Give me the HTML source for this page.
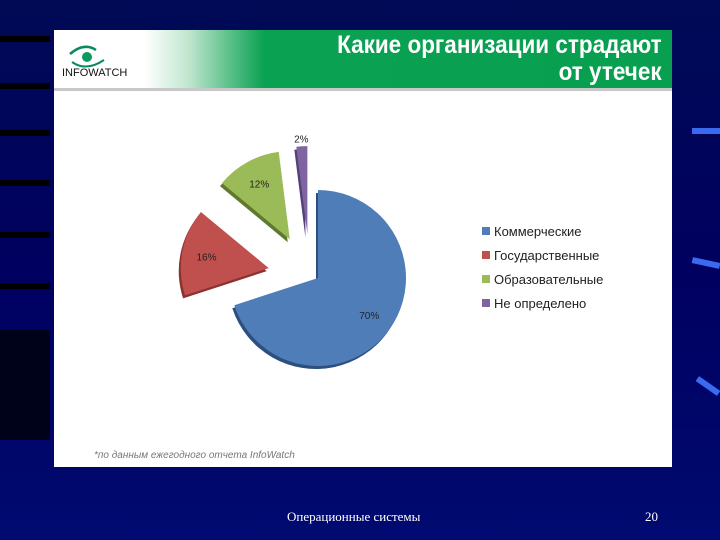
<!DOCTYPE html>
<html><head><meta charset="utf-8"><style>
body{margin:0;width:720px;height:540px;overflow:hidden;background:linear-gradient(180deg,#000a55 0%,#000060 50%,#000a70 100%);position:relative;font-family:"Liberation Sans",sans-serif}
.s{position:absolute;left:0;width:50px;height:6px;background:#000}
</style></head><body>
<div class="s" style="top:36px"></div>
<div class="s" style="top:83px"></div>
<div class="s" style="top:130px"></div>
<div class="s" style="top:180px"></div>
<div class="s" style="top:232px"></div>
<div class="s" style="top:283px"></div>
<div style="position:absolute;left:0;top:330px;width:50px;height:110px;background:#00021a"></div>
<div style="position:absolute;left:692px;top:128px;width:28px;height:6px;background:#3a6af0"></div>
<div style="position:absolute;left:692px;top:260px;width:28px;height:6px;background:#3a6af0;transform:rotate(12deg)"></div>
<div style="position:absolute;left:695px;top:383px;width:26px;height:6px;background:#3a6af0;transform:rotate(35deg)"></div>

<div style="position:absolute;left:54px;top:30px;width:618px;height:437px;background:#fff">
 <div style="position:absolute;left:0;top:0;width:618px;height:58px;background:linear-gradient(90deg,#fff 0px,#fff 90px,#bfe6cf 135px,#5cc18a 175px,#0aa152 210px,#08a050 100%);border-bottom:3px solid #c8c8c8"></div>
 <div style="position:absolute;left:4px;top:12px;width:70px;height:40px">
  <svg width="70" height="40"><path d="M12 12 Q26 0 38 8" stroke="#0a8a5a" stroke-width="2.5" fill="none"/><path d="M14 20 Q28 30 46 18" stroke="#0a8a5a" stroke-width="2" fill="none"/><circle cx="29" cy="15" r="5" fill="#0a9a60"/></svg>
  <div style="position:absolute;left:4px;top:25px;font-size:11px;color:#111">INFOWATCH</div>
 </div>
 <div style="position:absolute;right:10px;top:2px;text-align:right;color:#fff;font-weight:bold;font-size:25px;line-height:27px;transform:scaleX(0.9);transform-origin:right">Какие организации страдают<br>от утечек</div>
 <svg id="pie" width="618" height="437" style="position:absolute;left:0;top:0"></svg>
 <div style="position:absolute;left:40px;top:420px;font-size:10px;font-style:italic;color:#777">*по данным ежегодного отчета InfoWatch</div>
</div>
<div style="position:absolute;left:287px;top:509px;color:#fff;font-family:'Liberation Serif',serif;font-size:13px">Операционные системы</div>
<div style="position:absolute;left:645px;top:509px;color:#fff;font-family:'Liberation Serif',serif;font-size:13px">20</div>
<script>
const categories=["Коммерческие","Государственные","Образовательные","Не определено"];
const values=[70,16,12,2];
const labels=["70%","16%","12%","2%"];
const colors=["#4f7db8","#c0504d","#9bbb59","#8064a2"];
const dark=["#2c4f80","#8a3230","#5e7a2c","#54407a"];
const svg=document.getElementById('pie');
const NS="http://www.w3.org/2000/svg";
const cx=264,cy=248,r=88,explode=42,shiftX=-8,shiftY=-2;
const total=values.reduce((a,b)=>a+b,0);
function pt(a,rad,ox,oy){return [ox+rad*Math.sin(a),oy-rad*Math.cos(a)];}
let start=0;
values.forEach((v,i)=>{
 const ang=v/total*2*Math.PI, end=start+ang, mid=start+ang/2;
 const e=i===0?0:explode;
 const sx=i===0?0:shiftX, sy=i===0?0:shiftY;
 const ox=cx+sx+e*Math.sin(mid), oy=cy+sy-e*Math.cos(mid);
 const p1=pt(start,r,ox,oy),p2=pt(end,r,ox,oy);
 const d=`M${ox},${oy} L${p1[0]},${p1[1]} A${r},${r} 0 ${ang>Math.PI?1:0} 1 ${p2[0]},${p2[1]} Z`;
 const sh=document.createElementNS(NS,'path');
 sh.setAttribute('d',d);sh.setAttribute('fill',dark[i]);sh.setAttribute('transform','translate(-2,3)');
 
 
 svg.appendChild(sh);
 const p=document.createElementNS(NS,'path');
 p.setAttribute('d',d);p.setAttribute('fill',colors[i]);
 
 
 svg.appendChild(p);
 const lr=i===3?r+8:r*0.72;
 const lp=pt(mid,lr,ox,oy);
 const t=document.createElementNS(NS,'text');
 t.setAttribute('x',lp[0]);t.setAttribute('y',lp[1]+4);t.setAttribute('font-size','10');
 t.setAttribute('text-anchor','middle');t.setAttribute('fill','#222');
 t.setAttribute('font-family','Liberation Sans, sans-serif');
 t.textContent=labels[i];
 
 
 svg.appendChild(t);
 start=end;
});
categories.forEach((c,i)=>{
 const y=197+i*24;
 const rc=document.createElementNS(NS,'rect');
 rc.setAttribute('x',428);rc.setAttribute('y',y);rc.setAttribute('width',8);rc.setAttribute('height',8);rc.setAttribute('fill',colors[i]);
 
 
 svg.appendChild(rc);
 const t=document.createElementNS(NS,'text');
 t.setAttribute('x',440);t.setAttribute('y',y+9);t.setAttribute('font-size','13');t.setAttribute('fill','#222');
 t.setAttribute('font-family','Liberation Sans, sans-serif');
 t.textContent=c;
 
 
 svg.appendChild(t);
});
</script>
</body></html>
